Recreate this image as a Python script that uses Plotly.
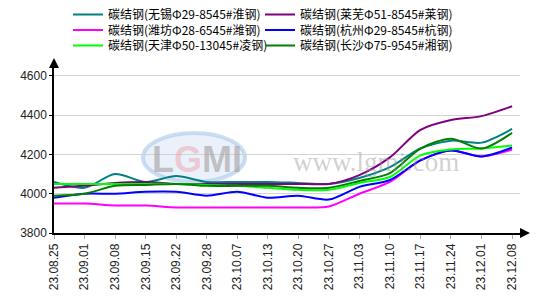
import plotly.graph_objects as go

dates = ["23.08.25", "23.09.01", "23.09.08", "23.09.15", "23.09.22", "23.09.28", "23.10.07", "23.10.13",
         "23.10.20", "23.10.27", "23.11.03", "23.11.10", "23.11.17", "23.11.24", "23.12.01", "23.12.08"]

wuxi    = [4060, 4030, 4100, 4060, 4090, 4060, 4060, 4060, 4055, 4050, 4080, 4135, 4230, 4270, 4260, 4330]
laiwu   = [4030, 4040, 4055, 4060, 4050, 4050, 4050, 4050, 4050, 4050, 4095, 4185, 4325, 4375, 4395, 4445]
weifang = [3950, 3950, 3940, 3940, 3930, 3930, 3930, 3930, 3930, 3935, 4000, 4060, 4170, 4220, 4190, 4225]
hangzhou= [3980, 4000, 4000, 4010, 4010, 3990, 4010, 3980, 3990, 3970, 4035, 4070, 4170, 4220, 4190, 4235]
tianjin = [4050, 4050, 4050, 4050, 4050, 4045, 4040, 4030, 4020, 4020, 4055, 4085, 4195, 4225, 4230, 4245]
changsha= [3990, 4000, 4040, 4045, 4050, 4040, 4040, 4040, 4030, 4030, 4065, 4105, 4230, 4280, 4230, 4310]

names = ["碳结钢(无锡Φ29-8545#淮钢)", "碳结钢(莱芜Φ51-8545#莱钢)", "碳结钢(潍坊Φ28-6545#潍钢)",
         "碳结钢(杭州Φ29-8545#杭钢)", "碳结钢(天津Φ50-13045#凌钢)", "碳结钢(长沙Φ75-9545#湘钢)"]
series = [wuxi, laiwu, weifang, hangzhou, tianjin, changsha]
colors = ["#008080", "#800080", "#ff00ff", "#0000ff", "#00ff00", "#008000"]
legend_ids = ["legend", "legend2", "legend3", "legend4", "legend5", "legend6"]

fig = go.Figure()
xs = list(range(len(dates)))
for n, s, c, lg in zip(names, series, colors, legend_ids):
    fig.add_trace(go.Scatter(x=xs, y=s, name=n, mode="lines", legend=lg,
                             line=dict(color=c, width=2, shape="spline", smoothing=0.8)))

W, H = 538, 299
def leg(xpx, ypx):
    return dict(orientation="h", xref="container", yref="container", x=xpx / W, y=1 - ypx / H,
                xanchor="left", yanchor="top", tracegroupgap=0,
                font=dict(family="Noto Sans CJK SC", size=12, color="#000"),
                bgcolor="rgba(0,0,0,0)")

legends = {}
for i, lg in enumerate(legend_ids):
    legends[lg] = leg(68 if i % 2 == 0 else 260, 0.0 + 15.5 * (i // 2))

fig.update_layout(
    width=W, height=H,
    margin=dict(l=54, r=18, t=68, b=66, autoexpand=False),
    paper_bgcolor="white", plot_bgcolor="white",
    font=dict(family="Arial, Liberation Sans, Noto Sans CJK SC", size=12, color="#000"),
    showlegend=True,
    xaxis=dict(range=[0, 15.26], tickmode="array", tickvals=xs, ticktext=dates,
               tickangle=-90, showgrid=False, zeroline=False,
               showline=True, linecolor="#000", linewidth=1.5,
               ticks="outside", ticklen=4, tickcolor="#aaa",
               tickfont=dict(size=12, color="#222")),
    yaxis=dict(range=[3800, 4640], tickvals=[3800, 4000, 4200, 4400, 4600],
               showgrid=True, gridcolor="#d3d3d3", gridwidth=1, zeroline=False,
               showline=True, linecolor="#000", linewidth=1.5,
               ticks="outside", ticklen=3, tickcolor="#000",
               tickfont=dict(size=12, color="#222")),
    **legends,
)

# watermark
fig.add_shape(type="circle", xref="paper", yref="paper", x0=0.191, x1=0.41, y0=0.309, y1=0.606,
              fillcolor="rgba(215,228,245,0.5)", line=dict(color="rgba(170,200,235,0.6)", width=4),
              layer="below")
fig.add_annotation(text="<b>L<span style='color:rgba(240,130,140,0.6)'>G</span>MI</b>",
                   xref="paper", yref="paper", x=0.307, y=0.448, xanchor="center", yanchor="middle",
                   showarrow=False,
                   font=dict(family="Liberation Sans", size=36, color="rgba(160,160,160,0.6)"))
fig.add_annotation(text="www.lgmi.com", xref="paper", yref="paper", x=0.691, y=0.43,
                   xanchor="center", yanchor="middle", showarrow=False,
                   font=dict(family="Liberation Serif", size=27, color="rgba(150,150,150,0.45)"))

# axis arrows
fig.add_shape(type="path", xref="paper", yref="paper", xsizemode="pixel", ysizemode="pixel",
              xanchor=0, yanchor=1, path="M-5,0 L5,0 L0,10 Z", fillcolor="#000", line=dict(width=0))
fig.add_shape(type="path", xref="paper", yref="paper", xsizemode="pixel", ysizemode="pixel",
              xanchor=1, yanchor=0, path="M0,-5 L0,5 L10,0 Z", fillcolor="#000", line=dict(width=0))

fig.write_html("out.html")
